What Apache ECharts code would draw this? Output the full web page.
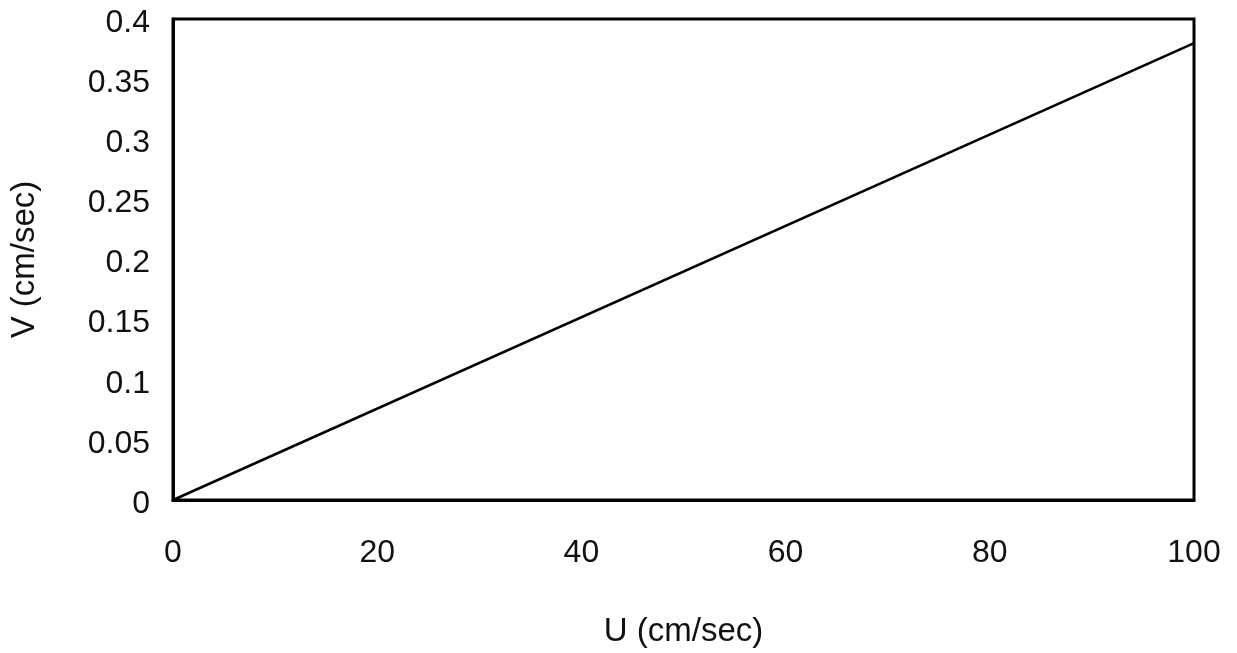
<!DOCTYPE html>
<html>
<head>
<meta charset="utf-8">
<script src="https://cdn.jsdelivr.net/npm/echarts@6/dist/echarts.min.js"></script>
<style>html,body{margin:0;padding:0;background:#fff;}#c{width:1237px;height:653px;}</style>
</head>
<body>
<div id="c"></div>
<script>
const uValues = [0, 100];
const vValues = [0, 0.38];
const xTicks = [0, 20, 40, 60, 80, 100];
const yTicks = [0, 0.05, 0.1, 0.15, 0.2, 0.25, 0.3, 0.35, 0.4];
const xName = 'U (cm/sec)';
const yName = 'V (cm/sec)';

const chart = echarts.init(document.getElementById('c'), null, {renderer: 'canvas'});
const font = 'Liberation Sans, Arial, sans-serif';
chart.setOption({
  animation: false,
  backgroundColor: '#fff',
  grid: {left: 173, right: 43, top: 19, bottom: 150, show: true, borderColor: '#000', borderWidth: 3},
  xAxis: {
    type: 'value', min: 0, max: 100, interval: 20,
    name: xName, nameLocation: 'middle', nameGap: 115,
    nameTextStyle: {fontFamily: font, fontSize: 33, color: '#111'},
    axisLine: {show: true, lineStyle: {color: '#000', width: 3}},
    axisTick: {show: false},
    splitLine: {show: false},
    axisLabel: {fontFamily: font, fontSize: 32, color: '#111', margin: 37,
      formatter: v => xTicks.includes(v) ? String(v) : ''}
  },
  yAxis: {
    type: 'value', min: 0, max: 0.4, interval: 0.05,
    name: yName, nameLocation: 'middle', nameGap: 132, nameRotate: 90,
    nameTextStyle: {fontFamily: font, fontSize: 33, color: '#111'},
    axisLine: {show: true, lineStyle: {color: '#000', width: 3}},
    axisTick: {show: false},
    splitLine: {show: false},
    axisLabel: {fontFamily: font, fontSize: 32, color: '#111', margin: 23,
      formatter: v => {
        const t = yTicks.find(y => Math.abs(y - v) < 1e-9);
        return t === undefined ? '' : '{v|' + t + '}';
      },
      rich: {v: {fontFamily: font, fontSize: 32, color: '#111', padding: [8, 0, 0, 0]}}
    }
  },
  series: [{
    type: 'line',
    data: uValues.map((u, i) => [u, vValues[i]]),
    symbol: 'none',
    lineStyle: {color: '#000', width: 2.5},
    clip: false
  }]
});
</script>
</body>
</html>
